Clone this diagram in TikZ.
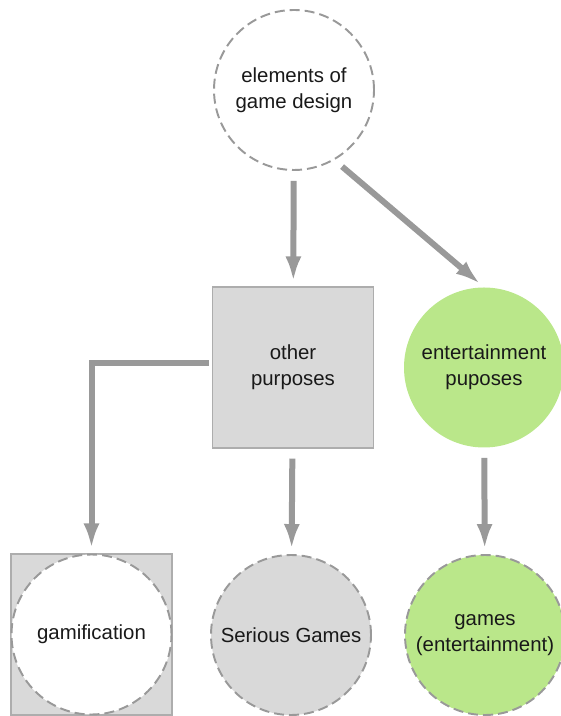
\documentclass[tikz,border=0pt]{standalone}
\usepackage{fontspec}
\setmainfont{Liberation Sans}
\usetikzlibrary{arrows.meta, positioning}
\tikzset{>={Latex[length=0.5cm, width=0.32cm]}}
\definecolor{flowgray}{RGB}{153,153,153}
\definecolor{boxgray}{RGB}{217,217,217}
\definecolor{funGreen}{RGB}{186,231,138}
\tikzset{
  label text/.style={font=\fontsize{11.6}{14.8}\selectfont, text=black!90, align=center},
  dashcircle/.style={circle, draw=flowgray, dash pattern=on 0.2cm off 0.1cm, line width=1.1pt,
    minimum size=3.2cm, inner sep=0pt, label text},
  greybox/.style={rectangle, draw=flowgray!80, fill=boxgray, line width=0.6pt,
    minimum size=3.22cm, inner sep=0pt, label text},
  flow/.style={->, flowgray, line width=0.12cm, shorten <=0.2cm, shorten >=0.1cm}
}

\begin{document}
\begin{tikzpicture}

\useasboundingbox (0,0) rectangle (11.2,14.32);

% Top concept
\node[dashcircle, fill=white] (elements) at (5.88,12.52) {elements of\\game design};

% Middle row
\node[greybox] (other) at (5.86,6.97) {other\\purposes};
\node[circle, fill=funGreen, minimum size=3.2cm, inner sep=0pt, label text] (fun) at (9.68,6.97) {entertainment\\puposes};

% Bottom row
\node[greybox] (gamsq) at (1.83,1.63) {};
\node[dashcircle, fill=white] (gamification) at (1.83,1.63) {gamification};
\node[dashcircle, fill=boxgray] (serious) at (5.82,1.62) {Serious Games};
\node[dashcircle, fill=funGreen] (games) at (9.70,1.62) {games\\(entertainment)};

% Arrows
\draw[flow] (elements) -- (other);
\draw[flow] (elements.300) -- (fun.north);
\draw[flow, shorten <=0.06cm] ([yshift=0.09cm]other.west) -| (gamsq.north);
\draw[flow] (other) -- (serious);
\draw[flow] (fun) -- (games);

\end{tikzpicture}
\end{document}
